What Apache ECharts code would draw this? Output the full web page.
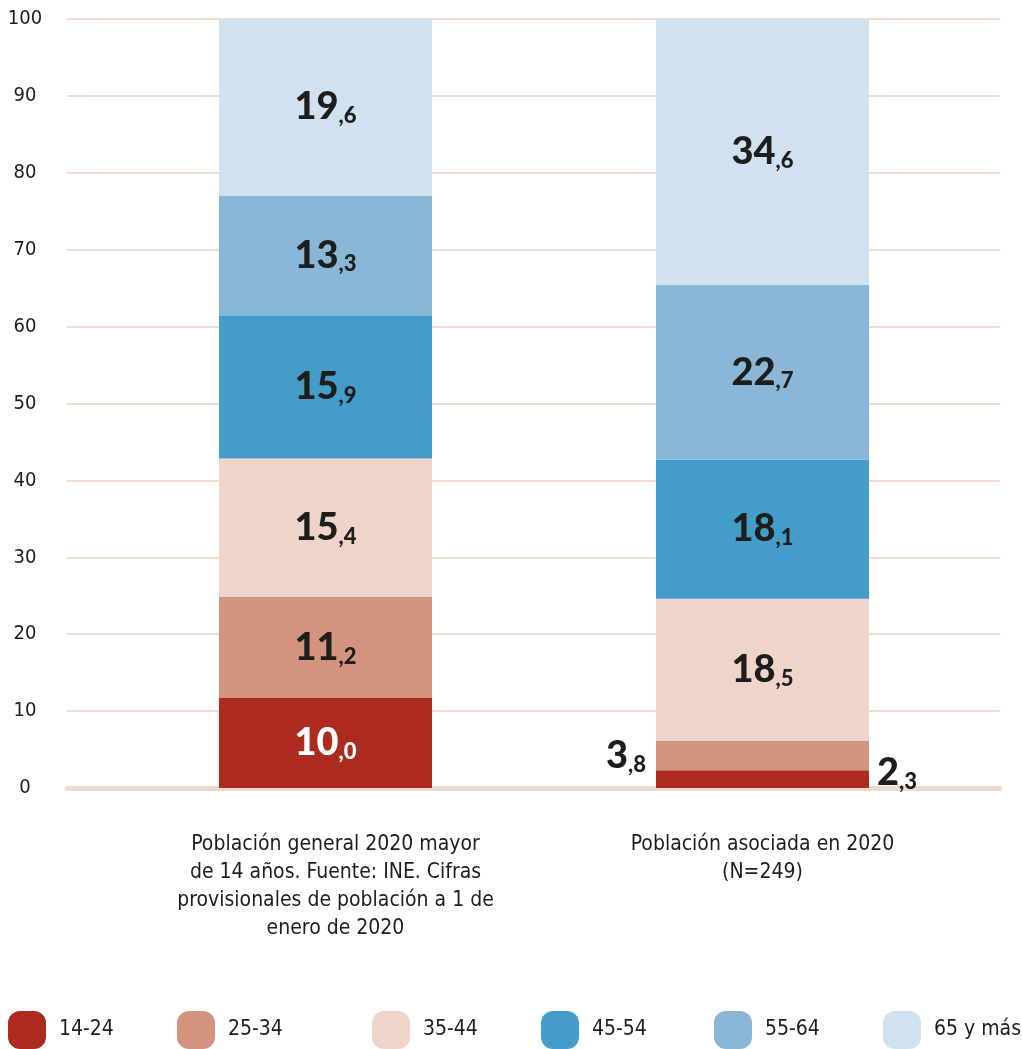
<!DOCTYPE html>
<html>
<head>
<meta charset="utf-8">
<script src="https://cdn.jsdelivr.net/npm/echarts@6/dist/echarts.min.js"></script>
<style>
  html, body { margin: 0; padding: 0; background: #fff; }
  #chart { width: 1022px; height: 1049px; }
</style>
</head>
<body>
<div id="chart"></div>
<script>
  // categorias y datos (porcentajes)
  var categories = [
    'Población general 2020 mayor\nde 14 años. Fuente: INE. Cifras\nprovisionales de población a 1 de\nenero de 2020',
    'Población asociada en 2020\n(N=249)'
  ];
  var ageGroups = ['14-24', '25-34', '35-44', '45-54', '55-64', '65 y más'];
  var general = [10.0, 11.2, 15.4, 15.9, 13.3, 19.6];
  var asociada = [2.3, 3.8, 18.5, 18.1, 22.7, 34.6];
  var colors = ['#ad2a1f', '#d4937d', '#efd5c9', '#449dc8', '#8ab7d8', '#d0e1f0'];

  var condensed = "'DejaVu Sans Condensed', 'Liberation Sans Narrow', 'Noto Sans', sans-serif";
  var boldFont = "Lato, 'Noto Sans', sans-serif";
  var dark = '#1d1d1b';

  // la barra general se dibuja al 100 %
  var generalTotal = general.reduce(function (a, b) { return a + b; }, 0);

  function fmt(v) {
    var parts = v.toFixed(1).split('.');
    return '{i|' + parts[0] + '}{d|,' + parts[1] + '}';
  }

  function richStyle(color) {
    return {
      i: { fontFamily: boldFont, fontWeight: 900, fontSize: 38, lineHeight: 40, color: color },
      d: { fontFamily: boldFont, fontWeight: 900, fontSize: 22, lineHeight: 38, color: color, verticalAlign: 'bottom' }
    };
  }

  var series = ageGroups.map(function (name, i) {
    var leftItem = {
      value: general[i] / generalTotal * 100,
      label: { formatter: fmt(general[i]), rich: richStyle(i === 0 ? '#fff' : dark) }
    };
    var rightItem = {
      value: asociada[i],
      label: { formatter: fmt(asociada[i]), rich: richStyle(dark) }
    };
    if (i === 0) {
      rightItem.label.position = 'right';
      rightItem.label.distance = 8;
      rightItem.label.offset = [0, -6];
    }
    if (i === 1) {
      rightItem.label.position = 'left';
      rightItem.label.distance = 10;
    }
    return {
      name: name,
      type: 'bar',
      stack: 'total',
      xAxisIndex: 1,
      yAxisIndex: 1,
      barWidth: 213,
      itemStyle: { color: colors[i] },
      label: { show: true, position: 'inside' },
      emphasis: { disabled: true },
      data: [leftItem, rightItem]
    };
  });

  var legendLeft = [8, 177, 372, 541, 714, 883];
  var legends = ageGroups.map(function (name, i) {
    return {
      data: [name],
      left: legendLeft[i],
      top: 1011,
      padding: 0,
      itemWidth: 38,
      itemHeight: 38,
      icon: 'path://M12,0 H26 A12,12 0 0 1 38,12 V26 A12,12 0 0 1 26,38 H12 A12,12 0 0 1 0,26 V12 A12,12 0 0 1 12,0 Z',
      textStyle: { fontFamily: condensed, fontSize: 21, color: dark, padding: [8, 0, 0, 8] },
      selectedMode: false
    };
  });

  var categoryData = categories.map(function (c, i) {
    return i === 0 ? { value: c, textStyle: { padding: [0, 0, 0, 20] } } : c;
  });

  var option = {
    animation: false,
    color: colors,
    legend: legends,
    grid: [
      { left: 67, right: 22, top: 19, bottom: 261 },
      { left: 107, right: 41, top: 19, bottom: 261 }
    ],
    xAxis: [
      {
        type: 'category', gridIndex: 0, data: [''],
        axisLine: { show: true, lineStyle: { color: '#efd9cf', width: 5 } },
        axisTick: { show: false }, axisLabel: { show: false }
      },
      {
        type: 'category', gridIndex: 1, data: categoryData,
        axisLine: { show: false }, axisTick: { show: false },
        axisLabel: {
          margin: 43, interval: 0,
          fontFamily: condensed, fontSize: 21, lineHeight: 28, color: dark, align: 'center'
        }
      }
    ],
    yAxis: [
      {
        type: 'value', gridIndex: 0, min: 0, max: 100, interval: 10,
        axisLine: { show: false }, axisTick: { show: false },
        splitLine: { lineStyle: { color: '#f2dcd2', width: 2 } },
        axisLabel: {
          margin: 42, align: 'center', padding: [4, 0, 0, 0],
          fontFamily: condensed, fontSize: 20, color: dark
        }
      },
      {
        type: 'value', gridIndex: 1, min: 0, max: 100, interval: 10,
        show: false
      }
    ],
    series: series
  };

  echarts.init(document.getElementById('chart')).setOption(option);
</script>
</body>
</html>
